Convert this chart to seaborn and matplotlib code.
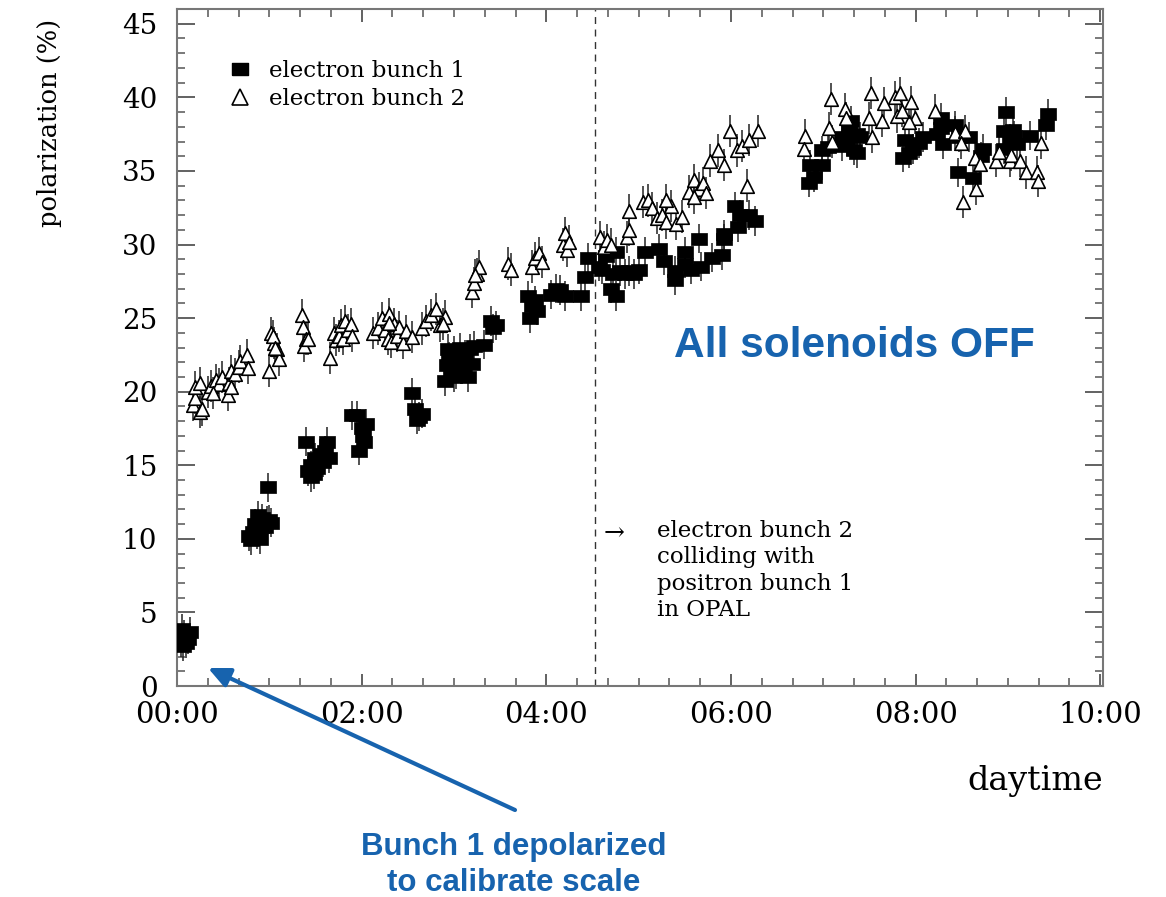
import pandas as pd
import seaborn as sns
import matplotlib.pyplot as plt
from matplotlib.lines import Line2D
from matplotlib.ticker import MultipleLocator

# time in hours after 00:00, polarization in %
b1_t = [0.04, 0.05, 0.06, 0.08, 0.10, 0.12, 0.14,
        0.78, 0.80, 0.82, 0.85, 0.87, 0.88, 0.90, 0.92, 0.95, 0.97, 1.00, 1.02, 0.99,
        1.40, 1.42, 1.45, 1.48, 1.50, 1.52, 1.55, 1.58, 1.60, 1.62, 1.65, 1.45,
        1.90, 1.95, 2.00, 2.02, 2.05, 1.97, 2.03,
        2.55, 2.58, 2.62, 2.65, 2.60,
        2.90, 2.92, 2.95, 2.97, 3.00, 3.02, 3.05, 3.07, 3.10, 3.12, 3.15, 3.17, 3.20, 3.22, 2.93, 3.00,
        3.33, 3.40, 3.45, 3.42,
        3.80, 3.82, 3.85, 3.88, 3.90,
        4.05, 4.10, 4.15, 4.20, 4.38, 4.42, 4.45,
        4.57, 4.60, 4.65, 4.70, 4.72, 4.75, 4.80, 4.85, 4.90, 4.95, 5.00, 4.75,
        5.07, 5.22, 5.28, 5.39, 5.39, 5.50, 5.50, 5.65, 5.57, 5.68, 5.79, 5.90, 5.93, 5.93,
        6.04, 6.10, 6.20, 6.26, 6.08,
        6.85, 6.90, 6.86, 6.99, 6.99, 7.05, 7.20, 7.20, 7.28, 7.30, 7.37, 7.40, 7.37, 7.33, 7.26,
        7.88, 7.86, 7.93, 8.04, 8.08, 7.97,
        8.27, 8.28, 8.23, 8.30, 8.43, 8.47, 8.58, 8.46, 8.62, 8.73, 8.71,
        8.98, 8.96, 8.96, 9.05, 9.07, 9.10, 9.24, 9.41, 9.43, 9.02]
b1_p = [3.0, 3.9, 2.7, 3.5, 2.9, 3.2, 3.7,
        10.2, 9.9, 10.5, 11.0, 10.3, 11.6, 10.0, 11.4, 10.8, 11.2, 11.3, 11.1, 13.5,
        16.6, 14.6, 15.0, 14.4, 15.5, 14.8, 15.8, 15.2, 16.0, 16.6, 15.5, 14.2,
        18.4, 18.4, 17.5, 17.0, 17.8, 16.0, 16.6,
        19.9, 18.8, 18.3, 18.5, 18.1,
        20.7, 21.8, 22.4, 21.5, 22.8, 21.2, 22.0, 23.0, 21.6, 22.5, 21.0, 22.9, 21.9, 23.1, 22.9, 21.0,
        23.2, 24.8, 24.5, 24.3,
        26.5, 25.0, 25.8, 26.2, 25.5,
        26.6, 27.0, 26.9, 26.5, 26.5, 27.8, 29.1,
        28.5, 28.3, 29.2, 27.0, 28.0, 29.5, 28.2, 28.0, 28.2, 28.0, 28.3, 26.5,
        29.5, 29.7, 28.9, 28.2, 27.6, 29.5, 28.7, 30.4, 28.3, 28.5, 29.1, 29.3, 30.4, 30.7,
        32.6, 32.0, 32.0, 31.6, 31.2,
        34.2, 34.6, 35.4, 35.4, 36.4, 36.6, 36.7, 37.3, 38.0, 38.4, 37.5, 37.3, 36.2, 36.4, 37.0,
        37.1, 35.9, 36.2, 36.9, 37.3, 36.5,
        38.6, 37.9, 37.5, 36.8, 38.1, 37.3, 37.3, 34.9, 34.5, 36.5, 36.0,
        39.0, 37.7, 36.5, 37.8, 37.4, 36.8, 37.4, 38.1, 38.9, 37.2]

b2_t = [0.17, 0.20, 0.25, 0.27, 0.20, 0.25, 0.34, 0.37, 0.42, 0.46, 0.49, 0.55, 0.56,
        0.58, 0.63, 0.67, 0.68, 0.76, 0.77, 0.59, 0.39,
        1.00, 1.02, 1.05, 1.08, 1.10, 1.04, 1.06,
        1.35, 1.37, 1.40, 1.38, 1.42,
        1.66, 1.70, 1.72, 1.75, 1.78, 1.80, 1.82, 1.85, 1.88, 1.90,
        2.12, 2.18, 2.22, 2.25, 2.28, 2.30, 2.32, 2.35, 2.38, 2.40, 2.45, 2.48, 2.55, 2.30,
        2.65, 2.70, 2.75, 2.80, 2.85, 2.90, 2.88,
        3.20, 3.22, 3.25, 3.27, 3.23,
        3.58, 3.62,
        3.85, 3.88, 3.92, 3.95, 4.18, 4.20, 4.22, 4.25,
        4.58, 4.62, 4.66, 4.70, 4.87, 4.90, 4.90,
        5.05, 5.10, 5.15, 5.20, 5.25, 5.30, 5.35, 5.40, 5.47, 5.30,
        5.55, 5.60, 5.65, 5.70, 5.73, 5.60,
        5.77, 5.86, 5.99, 6.07, 6.12, 6.20, 6.29, 6.17, 5.92,
        6.80, 6.79, 7.08, 7.06, 7.09, 7.23, 7.25, 7.50, 7.52, 7.64, 7.66, 7.53,
        7.78, 7.83, 7.80, 7.95, 7.99, 7.93, 7.85,
        8.21, 8.43, 8.53, 8.49, 8.64, 8.70, 8.51, 8.65, 8.87, 9.02, 9.03, 9.13,
        9.20, 9.32, 9.33, 9.36, 8.90]
b2_p = [19.1, 19.6, 18.6, 18.8, 20.3, 20.6, 20.0, 20.4, 20.8, 20.5, 21.0, 19.8, 20.6,
        21.4, 21.2, 21.7, 22.1, 22.5, 21.6, 20.3, 19.9,
        21.4, 24.0, 23.3, 22.9, 22.2, 23.8, 23.0,
        25.2, 24.4, 23.6, 23.1, 23.6,
        22.3, 24.0, 23.5, 23.8, 24.5, 23.6, 24.8, 24.2, 24.6, 23.8,
        24.0, 24.3, 25.0, 24.2, 23.6, 25.3, 23.4, 24.6, 23.8, 24.4, 23.3, 24.1, 23.7, 24.7,
        24.3, 24.8, 25.2, 25.6, 24.5, 25.1, 24.6,
        26.8, 27.4, 28.0, 28.5, 27.9,
        28.7, 28.3,
        28.5, 29.1, 29.4, 28.8, 30.0, 30.8, 29.6, 30.2,
        30.5, 29.8, 30.3, 30.0, 30.5, 31.0, 32.3,
        32.9, 33.0, 32.5, 31.8, 32.0, 31.5, 32.6, 31.4, 31.9, 33.0,
        33.6, 34.4, 33.8, 34.2, 33.5, 33.2,
        35.7, 36.4, 37.7, 36.4, 36.7, 37.1, 37.7, 34.0, 35.4,
        37.4, 36.5, 39.9, 37.9, 37.0, 39.2, 38.6, 38.6, 40.3, 38.4, 39.6, 37.3,
        40.0, 40.3, 38.7, 39.7, 38.6, 38.3, 39.1,
        39.1, 37.6, 37.7, 36.9, 35.9, 35.5, 32.9, 33.8, 35.7, 35.7, 36.1, 35.7,
        34.9, 34.9, 34.3, 36.9, 36.3]

err_b1 = 1.0
err_b2 = 1.1

tick_hours = [0, 2, 4, 6, 8, 10]
tick_labels = ['00:00', '02:00', '04:00', '06:00', '08:00', '10:00']
collision_start = 4.53

labels = ['electron bunch 1', 'electron bunch 2']
df = pd.concat([
    pd.DataFrame({'time': b1_t, 'polarization': b1_p, 'bunch': labels[0]}),
    pd.DataFrame({'time': b2_t, 'polarization': b2_p, 'bunch': labels[1]}),
])

sns.set_style('ticks')
plt.rcParams['font.family'] = ['DejaVu Serif', 'DejaVu Sans']
plt.rcParams['text.color'] = 'black'
plt.rcParams['axes.labelcolor'] = 'black'

rect = [(-1.4, -1), (1.4, -1), (1.4, 1), (-1.4, 1), (-1.4, -1)]
blue = '#1763ae'

fig = plt.figure(figsize=(11.66, 8.97), dpi=100)
ax = fig.add_axes([0.1518, 0.2352, 0.7942, 0.7547])

# error bars first, markers on top
ax.errorbar(b1_t, b1_p, yerr=err_b1, fmt='none', ecolor='#222222', elinewidth=1.1)
ax.errorbar(b2_t, b2_p, yerr=err_b2, fmt='none', ecolor='#222222', elinewidth=1.1)
sns.scatterplot(data=df[df.bunch == labels[0]], x='time', y='polarization',
                marker=rect, s=140, color='black', edgecolor='black', linewidth=0.5,
                legend=False, ax=ax, zorder=3)
sns.scatterplot(data=df[df.bunch == labels[1]], x='time', y='polarization',
                marker='^', s=95, color='white', edgecolor='black', linewidth=1.2,
                legend=False, ax=ax, zorder=4)

ax.axvline(collision_start, color='#333333', lw=1.0, ls=(0, (5, 4)))

ax.set_xlim(0, 10.03)
ax.set_ylim(0, 46)
ax.set_xticks(tick_hours)
ax.set_xticklabels(tick_labels)
ax.xaxis.set_minor_locator(MultipleLocator(1 / 3))
ax.yaxis.set_major_locator(MultipleLocator(5))
ax.yaxis.set_minor_locator(MultipleLocator(1))
ax.tick_params(which='both', direction='in', top=True, right=True, color='#555555',
               labelcolor='black')
ax.tick_params(axis='x', which='major', length=9, width=1.3, labelsize=21, pad=11)
ax.tick_params(axis='y', which='major', length=13, width=1.3, labelsize=20, pad=14)
ax.tick_params(which='minor', length=5.5, width=1.1)
for sp in ax.spines.values():
    sp.set_color('#777777')
    sp.set_linewidth(1.5)

ax.set_xlabel('daytime', fontsize=24, loc='right')
ax.xaxis.set_label_coords(1.0, -0.117)
ax.xaxis.label.set_verticalalignment('top')
ax.set_ylabel('polarization (%)', fontsize=18.5, loc='top')
ax.yaxis.set_label_coords(-0.124, 0.985)

handles = [Line2D([], [], ls='none', marker=rect, ms=12, color='black'),
           Line2D([], [], ls='none', marker='^', ms=11, mfc='white', mec='black', mew=1.2)]
ax.legend(handles, labels, loc='upper left', bbox_to_anchor=(0.033, 0.955),
          frameon=False, fontsize=16.5, handlelength=1.0, handletextpad=0.8,
          labelspacing=0.25)

ax.text(4.62, 10.35, '\u2192', fontsize=18, va='center', ha='left')
ax.text(5.2, 11.3, 'electron bunch 2\ncolliding with\npositron bunch 1\nin OPAL',
        fontsize=16.5, va='top', ha='left', linespacing=1.27)

fig.text(854 / 1166, 1 - 346 / 897, 'All solenoids OFF', color=blue, fontsize=30.5,
         fontweight='bold', family='Liberation Sans', ha='center', va='center')
fig.text(514 / 1166, 1 - 865 / 897, 'Bunch 1 depolarized\nto calibrate scale', color=blue,
         fontsize=22.5, fontweight='bold', family='Liberation Sans', ha='center', va='center',
         linespacing=1.22)
ax.annotate('', xy=(208 / 1166, 1 - 668 / 897), xytext=(515 / 1166, 1 - 810 / 897),
            xycoords='figure fraction', textcoords='figure fraction',
            arrowprops=dict(arrowstyle='-|>,head_length=1.3,head_width=0.6', color=blue,
                            lw=3, shrinkA=0, shrinkB=0), annotation_clip=False)

fig.savefig('out.png', dpi=100)
